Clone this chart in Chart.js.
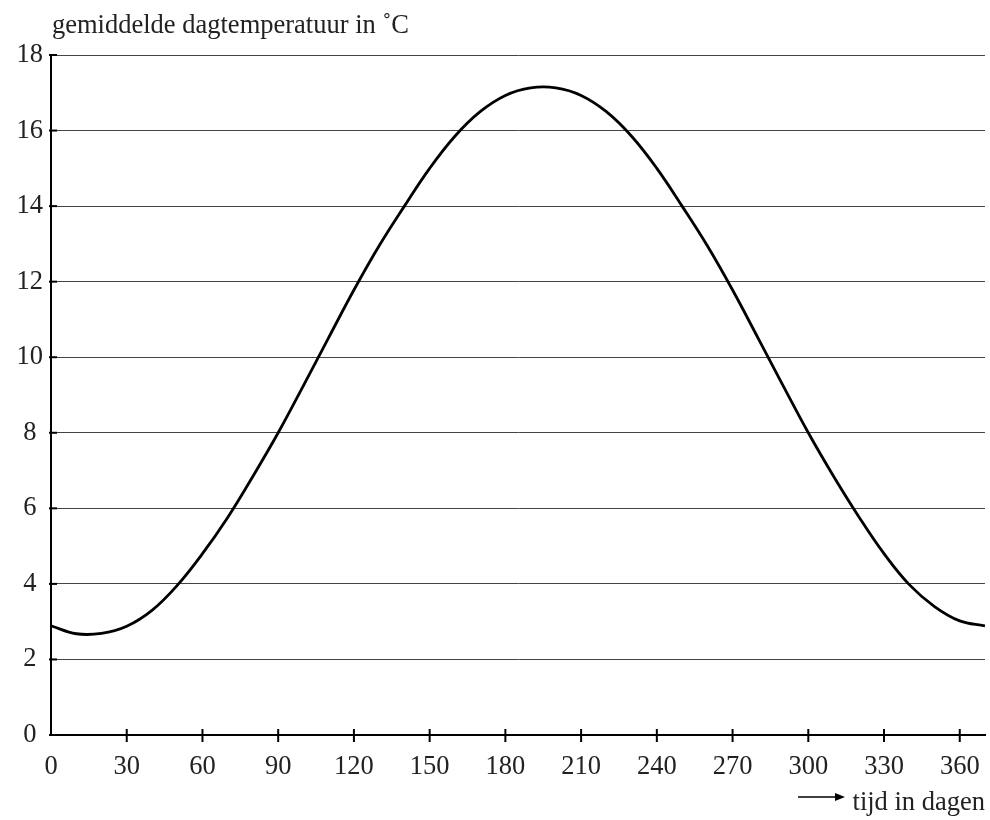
<!DOCTYPE html>
<html>
<head>
<meta charset="utf-8">
<script src="https://cdn.jsdelivr.net/npm/chart.js@4"></script>
<style>
  body { margin: 0; background: #fff; }
  #wrap { width: 990px; height: 820px; }
</style>
</head>
<body>
<div id="wrap"><canvas id="tempChart" width="990" height="820"></canvas></div>
<script>
const days = [
  0, 10, 20, 30, 40, 50, 60, 70, 80, 90, 100, 110, 120, 130, 140, 150, 160,
  170, 180, 190, 200, 210, 220, 230, 240, 250, 260, 270, 280, 290, 300, 310,
  320, 330, 340, 350, 360, 370,
];
const temps = [
  2.89, 2.68, 2.69, 2.88, 3.3, 3.96, 4.8, 5.76, 6.85, 8.0, 9.25, 10.52, 11.78,
  12.95, 14.0, 15.0, 15.85, 16.5, 16.93, 17.13, 17.13, 16.93, 16.5, 15.85,
  15.0, 14.0, 12.95, 11.78, 10.52, 9.25, 8.0, 6.85, 5.78, 4.8, 3.98, 3.4,
  3.02, 2.89,
];
const xTicks = [0, 30, 60, 90, 120, 150, 180, 210, 240, 270, 300, 330, 360];
const yTicks = [0, 2, 4, 6, 8, 10, 12, 14, 16, 18];

const serif = "'Liberation Serif', 'DejaVu Serif', serif";
const fontSize = 26.5;

// tick marks across the axes + the two axis captions
const decor = {
  id: "decor",
  afterDraw(chart) {
    const { ctx, chartArea, scales } = chart;
    ctx.save();
    ctx.strokeStyle = "#000";
    ctx.lineWidth = 2;
    xTicks.forEach((t) => {
      if (t === 0) return;
      const px = scales.x.getPixelForValue(t);
      ctx.beginPath();
      ctx.moveTo(px, chartArea.bottom - 6);
      ctx.lineTo(px, chartArea.bottom + 7);
      ctx.stroke();
    });
    yTicks.forEach((t) => {
      const py = scales.y.getPixelForValue(t);
      ctx.beginPath();
      ctx.moveTo(chartArea.left - 2, py);
      ctx.lineTo(chartArea.left + 6, py);
      ctx.stroke();
    });

    ctx.fillStyle = "#222";
    ctx.font = fontSize + "px " + serif;
    ctx.textAlign = "left";
    ctx.textBaseline = "alphabetic";
    ctx.fillText("gemiddelde dagtemperatuur in \u02DAC", 52, 33);

    ctx.textAlign = "right";
    ctx.fillText("tijd in dagen", 985, 810);

    // arrow
    ctx.lineWidth = 1.5;
    ctx.strokeStyle = "#000";
    ctx.beginPath();
    ctx.moveTo(798, 797);
    ctx.lineTo(838, 797);
    ctx.stroke();
    ctx.fillStyle = "#000";
    ctx.beginPath();
    ctx.moveTo(845, 797);
    ctx.lineTo(835, 793);
    ctx.lineTo(835, 801);
    ctx.closePath();
    ctx.fill();
    ctx.restore();
  },
};

const ctx = document.getElementById("tempChart").getContext("2d");

const tempChart = new Chart(ctx, {
  type: "line",
  data: {
    datasets: [
      {
        label: "gemiddelde dagtemperatuur",
        data: days.map((d, i) => ({ x: d, y: temps[i] })),
        borderColor: "#000",
        borderWidth: 2.8,
        pointRadius: 0,
        fill: false,
        tension: 0.4,
      },
    ],
  },
  options: {
    responsive: false,
    animation: false,
    layout: {
      padding: { left: 0, top: 55, right: 5, bottom: 0 },
    },
    plugins: {
      legend: { display: false },
      tooltip: { enabled: false },
    },
    scales: {
      x: {
        type: "linear",
        min: 0,
        max: 370,
        afterBuildTicks: (scale) => {
          scale.ticks = xTicks.map((v) => ({ value: v }));
        },
        afterFit: (scale) => {
          scale.height = 85;
          scale.paddingRight = 0;
          scale.paddingLeft = 0;
        },
        ticks: {
          color: "#222",
          font: { family: serif, size: fontSize },
          padding: 16,
          maxRotation: 0,
        },
        grid: {
          drawOnChartArea: false,
          drawTicks: false,
        },
        border: { color: "#000", width: 2 },
      },
      y: {
        min: 0,
        max: 18,
        afterBuildTicks: (scale) => {
          scale.ticks = yTicks.map((v) => ({ value: v }));
        },
        afterFit: (scale) => {
          scale.width = 51;
        },
        ticks: {
          color: "#222",
          font: { family: serif, size: fontSize },
          crossAlign: "center",
          padding: 8,
        },
        grid: {
          color: "#444",
          lineWidth: 1,
          drawTicks: false,
        },
        border: { color: "#000", width: 2 },
      },
    },
  },
  plugins: [decor],
});
</script>
</body>
</html>
